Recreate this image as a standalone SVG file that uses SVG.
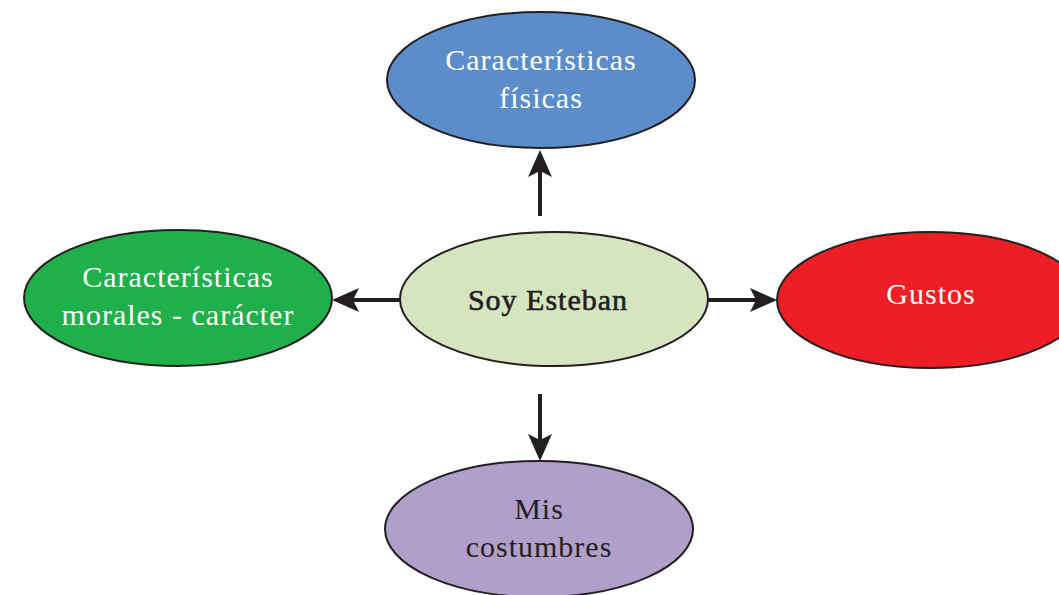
<svg xmlns="http://www.w3.org/2000/svg" width="1059" height="595" viewBox="0 0 1059 595">
<defs>
<style>
.node ellipse{stroke:#231f20;stroke-width:2}
.lbl{font-family:"Liberation Serif","DejaVu Serif",serif;font-size:30px;letter-spacing:1px;text-anchor:middle}
.w{fill:#ffffff}
.d{fill:#231f20}
.b{stroke:#231f20;stroke-width:0.6}
.conn line{stroke:#231f20;stroke-width:4}
.conn path{fill:#231f20}
</style>
</defs>
<rect width="1059" height="595" fill="#ffffff"/>
<g id="connectors" class="conn">
<line x1="540" y1="216" x2="540" y2="170"/>
<path d="M540,150 L552,177 L540,171 L528,177 Z"/>
<line x1="400" y1="300" x2="352" y2="300"/>
<path d="M332,300 L359,288 L353,300 L359,312 Z"/>
<line x1="708" y1="300" x2="757" y2="300"/>
<path d="M777,300 L750,288 L756,300 L750,312 Z"/>
<line x1="540" y1="394" x2="540" y2="441"/>
<path d="M540,461 L552,434 L540,440 L528,434 Z"/>
</g>
<g id="node-fisicas" class="node">
<ellipse cx="541" cy="80" rx="154" ry="68" fill="#5a8dca"/>
<text class="lbl w" x="541" y="70">Características</text>
<text class="lbl w" x="541" y="108">físicas</text>
</g>
<g id="node-morales" class="node">
<ellipse cx="178" cy="298" rx="154" ry="68" fill="#1fb04b"/>
<text class="lbl w" x="178" y="287">Características</text>
<text class="lbl w" x="178" y="325">morales - carácter</text>
</g>
<g id="node-esteban" class="node">
<ellipse cx="554" cy="299" rx="154" ry="67" fill="#d6e4bf"/>
<text class="lbl d b" x="548" y="310">Soy Esteban</text>
</g>
<g id="node-gustos" class="node">
<ellipse cx="931" cy="300" rx="154" ry="68" fill="#ed1f24"/>
<text class="lbl w" x="931" y="304">Gustos</text>
</g>
<g id="node-costumbres" class="node">
<ellipse cx="539" cy="529" rx="154" ry="68" fill="#b09fca"/>
<text class="lbl d" x="539" y="519">Mis</text>
<text class="lbl d" x="539" y="557">costumbres</text>
</g>
</svg>
